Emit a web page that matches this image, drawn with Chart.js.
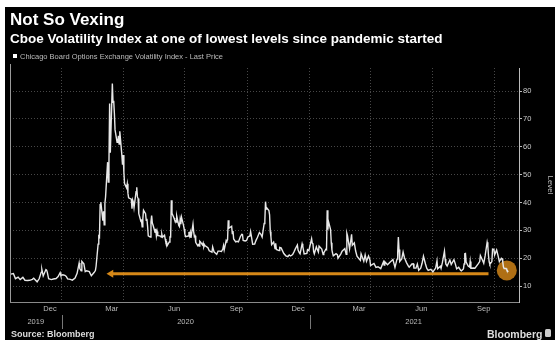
<!DOCTYPE html>
<html>
<head>
<meta charset="utf-8">
<script src="https://cdn.jsdelivr.net/npm/chart.js@4"></script>
<style>
  html, body { margin:0; padding:0; background:#fff; width:555px; height:340px; overflow:hidden; }
  #bg { position:absolute; left:5px; top:7px; width:550px; height:333px; background:#000; }
  #c { position:absolute; left:0; top:0; }
  .t { position:absolute; white-space:nowrap; font-family:"Liberation Sans", Arial, sans-serif; line-height:1; }
</style>
</head>
<body>
<div id="bg"></div>
<canvas id="c" width="555" height="340"></canvas>
<div class="t" style="left:10px;top:11px;font-size:17px;font-weight:bold;color:#fff;">Not So Vexing</div>
<div class="t" style="left:10px;top:31.5px;font-size:13.5px;font-weight:bold;color:#fff;">Cboe Volatility Index at one of lowest levels since pandemic started</div>
<div style="position:absolute;left:13px;top:54px;width:4px;height:4px;background:#fff;"></div>
<div class="t" style="left:20px;top:52.5px;font-size:7.5px;color:#bbb;">Chicago Board Options Exchange Volatility Index - Last Price</div>
<div class="t" style="left:11px;top:330px;font-size:9px;font-weight:bold;color:#ddd;">Source: Bloomberg</div>
<div class="t" style="left:487px;top:328.5px;font-size:10.5px;font-weight:bold;color:#ddd;">Bloomberg</div>
<div style="position:absolute;left:545px;top:329px;width:6px;height:8px;border-radius:1.5px;background:#ccc;"></div>
<script>
// ---------------- DATA ----------------
const dates = [
 '2019-10-18','2019-10-22','2019-10-25','2019-10-29','2019-11-01','2019-11-05','2019-11-08','2019-11-12','2019-11-15','2019-11-19','2019-11-21','2019-11-26','2019-11-29',
 '2019-12-02','2019-12-03','2019-12-04','2019-12-05','2019-12-09','2019-12-10','2019-12-11','2019-12-13','2019-12-17','2019-12-20','2019-12-24','2019-12-27','2019-12-30','2019-12-31',
 '2020-01-03','2020-01-06','2020-01-08','2020-01-10','2020-01-14','2020-01-17','2020-01-21','2020-01-24','2020-01-27','2020-01-28','2020-01-30','2020-01-31',
 '2020-02-03','2020-02-05','2020-02-07','2020-02-11','2020-02-14','2020-02-18','2020-02-20','2020-02-21','2020-02-24','2020-02-25','2020-02-26','2020-02-27','2020-02-28',
 '2020-03-02','2020-03-03','2020-03-04','2020-03-05','2020-03-06','2020-03-09','2020-03-10','2020-03-11','2020-03-12','2020-03-13','2020-03-16','2020-03-17','2020-03-18','2020-03-19','2020-03-20','2020-03-23','2020-03-24','2020-03-25','2020-03-26','2020-03-27','2020-03-30','2020-03-31',
 '2020-04-01','2020-04-02','2020-04-03','2020-04-06','2020-04-07','2020-04-08','2020-04-09','2020-04-13','2020-04-14','2020-04-15','2020-04-16','2020-04-17','2020-04-20','2020-04-21','2020-04-22','2020-04-23','2020-04-24','2020-04-27','2020-04-28','2020-04-29','2020-04-30',
 '2020-05-01','2020-05-04','2020-05-05','2020-05-06','2020-05-07','2020-05-08','2020-05-11','2020-05-12','2020-05-13','2020-05-14','2020-05-15','2020-05-18','2020-05-19','2020-05-20','2020-05-21','2020-05-22','2020-05-26','2020-05-27','2020-05-28','2020-05-29',
 '2020-06-01','2020-06-02','2020-06-03','2020-06-04','2020-06-05','2020-06-08','2020-06-09','2020-06-10','2020-06-11','2020-06-12','2020-06-15','2020-06-16','2020-06-17','2020-06-18','2020-06-19','2020-06-22','2020-06-23','2020-06-24','2020-06-25','2020-06-26','2020-06-29','2020-06-30',
 '2020-07-01','2020-07-02','2020-07-06','2020-07-07','2020-07-08','2020-07-09','2020-07-10','2020-07-13','2020-07-14','2020-07-15','2020-07-16','2020-07-17','2020-07-20','2020-07-21','2020-07-22','2020-07-23','2020-07-24','2020-07-27','2020-07-28','2020-07-29','2020-07-30','2020-07-31',
 '2020-08-04','2020-08-06','2020-08-10','2020-08-11','2020-08-13','2020-08-17','2020-08-19','2020-08-21','2020-08-24','2020-08-26','2020-08-27','2020-08-28','2020-08-31',
 '2020-09-01','2020-09-02','2020-09-03','2020-09-04','2020-09-08','2020-09-09','2020-09-10','2020-09-11','2020-09-14','2020-09-16','2020-09-18','2020-09-21','2020-09-23','2020-09-24','2020-09-25','2020-09-28','2020-09-30',
 '2020-10-02','2020-10-05','2020-10-06','2020-10-07','2020-10-09','2020-10-12','2020-10-14','2020-10-16','2020-10-19','2020-10-21','2020-10-23','2020-10-26','2020-10-27','2020-10-28','2020-10-29','2020-10-30',
 '2020-11-02','2020-11-03','2020-11-04','2020-11-05','2020-11-06','2020-11-09','2020-11-10','2020-11-11','2020-11-12','2020-11-13','2020-11-17','2020-11-18','2020-11-20','2020-11-24','2020-11-27','2020-11-30',
 '2020-12-02','2020-12-04','2020-12-07','2020-12-09','2020-12-11','2020-12-14','2020-12-15','2020-12-17','2020-12-18','2020-12-21','2020-12-22','2020-12-24','2020-12-28','2020-12-29','2020-12-31',
 '2021-01-04','2021-01-05','2021-01-06','2021-01-07','2021-01-08','2021-01-11','2021-01-12','2021-01-14','2021-01-15','2021-01-19','2021-01-21','2021-01-22','2021-01-25','2021-01-26','2021-01-27','2021-01-28','2021-01-29',
 '2021-02-01','2021-02-02','2021-02-03','2021-02-04','2021-02-05','2021-02-09','2021-02-11','2021-02-12','2021-02-16','2021-02-18','2021-02-22','2021-02-24','2021-02-25','2021-02-26',
 '2021-03-01','2021-03-03','2021-03-04','2021-03-05','2021-03-08','2021-03-10','2021-03-12','2021-03-15','2021-03-17','2021-03-18','2021-03-22','2021-03-24','2021-03-26','2021-03-29','2021-03-31',
 '2021-04-01','2021-04-06','2021-04-09','2021-04-12','2021-04-16','2021-04-20','2021-04-21','2021-04-22','2021-04-26','2021-04-30',
 '2021-05-04','2021-05-07','2021-05-10','2021-05-11','2021-05-12','2021-05-13','2021-05-14','2021-05-17','2021-05-19','2021-05-21','2021-05-24','2021-05-27','2021-05-28',
 '2021-06-01','2021-06-03','2021-06-04','2021-06-07','2021-06-09','2021-06-11','2021-06-14','2021-06-16','2021-06-18','2021-06-21','2021-06-23','2021-06-25','2021-06-29',
 '2021-07-02','2021-07-06','2021-07-08','2021-07-09','2021-07-13','2021-07-14','2021-07-16','2021-07-19','2021-07-20','2021-07-21','2021-07-23','2021-07-27','2021-07-29',
 '2021-08-02','2021-08-04','2021-08-06','2021-08-09','2021-08-12','2021-08-13','2021-08-16','2021-08-17','2021-08-18','2021-08-19','2021-08-20','2021-08-23','2021-08-25','2021-08-26','2021-08-27','2021-08-31',
 '2021-09-02','2021-09-07','2021-09-09','2021-09-10','2021-09-13','2021-09-15','2021-09-17','2021-09-20','2021-09-21','2021-09-22','2021-09-23','2021-09-24','2021-09-27','2021-09-28','2021-09-30',
 '2021-10-01','2021-10-04','2021-10-06','2021-10-08','2021-10-11','2021-10-12','2021-10-13','2021-10-14','2021-10-15','2021-10-18','2021-10-19','2021-10-20','2021-10-21'
];
const vix = [
 14.25,14.46,12.65,13.2,12.3,13.1,12.07,11.99,12.05,12.4,12.8,11.5,12.6,
 14.9,15.96,14.8,13.6,15.9,15.7,14.99,12.6,12.3,12.5,12.7,13.4,14.8,13.8,
 14.02,13.85,13.45,12.56,12.39,12.1,12.85,14.56,18.23,16.28,15.49,18.84,
 17.97,15.15,15.47,15.18,13.68,14.83,15.56,17.08,25.03,27.85,27.56,39.16,40.11,
 33.42,36.82,31.99,39.62,41.94,54.46,47.3,53.9,75.47,57.83,82.69,75.91,76.45,72.0,66.04,61.59,61.67,63.95,61.0,65.54,57.08,53.54,
 57.06,50.91,46.8,45.24,46.7,43.35,41.67,41.17,37.76,40.84,40.11,38.15,43.83,45.41,41.98,41.38,35.93,33.29,33.57,31.23,34.15,
 37.19,35.97,33.61,34.12,31.44,27.98,27.57,33.04,35.28,32.61,31.89,29.3,30.53,27.99,29.53,28.16,27.91,27.62,28.59,27.51,
 28.23,26.84,25.66,25.81,24.52,25.81,27.57,27.57,40.79,36.09,34.4,33.67,33.47,32.94,35.12,31.77,31.37,33.84,32.22,34.73,31.78,30.43,
 28.62,27.68,27.94,29.43,28.08,29.26,27.29,32.19,29.52,27.76,28.0,25.68,24.46,24.84,24.32,26.08,25.84,24.74,25.44,24.1,24.76,24.46,
 23.76,22.65,22.13,24.03,22.28,21.35,22.54,22.54,22.37,23.27,24.47,22.96,26.41,
 26.12,26.57,33.6,30.75,31.46,28.81,29.71,26.87,25.85,26.04,25.83,27.78,28.58,28.51,26.38,26.19,26.37,
 27.63,27.96,29.48,28.06,25.0,25.07,26.4,27.41,29.18,28.65,27.55,32.46,33.35,40.28,37.59,38.02,
 37.13,35.55,29.57,27.58,24.86,25.75,24.8,23.45,25.35,23.1,22.71,23.84,23.7,21.64,20.84,20.57,
 21.17,20.79,21.3,22.27,23.31,24.72,22.89,21.93,21.57,25.16,24.23,21.53,21.7,23.08,22.75,
 26.97,25.34,25.07,22.37,21.56,24.08,23.33,22.21,24.34,23.24,21.32,21.91,23.19,23.02,37.21,30.21,33.09,
 30.24,25.56,22.91,21.77,20.87,21.63,21.25,19.97,21.46,22.49,23.45,21.34,28.89,27.95,
 23.35,26.67,28.57,24.66,25.47,22.56,20.69,19.79,19.23,21.58,18.88,21.2,18.86,20.74,19.4,
 17.33,18.12,16.69,16.91,16.25,18.68,17.5,18.71,17.64,18.61,
 19.48,16.69,19.66,21.84,27.59,23.13,18.81,19.72,22.18,20.15,18.4,17.07,16.76,
 17.9,17.98,16.42,16.42,17.89,15.65,16.39,18.15,20.7,17.89,16.32,15.62,15.96,
 15.07,16.44,19.0,16.18,17.07,16.33,18.45,22.5,19.73,17.91,17.2,19.36,17.7,
 19.46,17.95,16.15,16.72,15.59,15.45,16.12,17.91,21.57,21.67,18.56,17.15,16.79,18.84,16.39,16.48,
 16.41,18.0,18.8,20.95,19.37,18.18,20.81,25.71,24.36,20.87,18.63,17.75,18.76,23.25,23.14,
 21.15,22.96,21.0,18.77,20.0,19.85,18.64,16.86,16.3,16.3,15.7,15.49,15.01
];
const yTicks = [10, 20, 30, 40, 50, 60, 70, 80];
const gridDates = ['2020-01-01','2020-04-01','2020-07-01','2020-10-01','2021-01-01','2021-04-01','2021-07-01','2021-10-01'];
const monthLabels = ['Dec','Mar','Jun','Sep','Dec','Mar','Jun','Sep'];
const monthLabelDates = ['2019-12-15','2020-03-15','2020-06-15','2020-09-15','2020-12-15','2021-03-15','2021-06-15','2021-09-15'];
const yearLabels = ['2019','2020','2021'];
const yearBounds = ['2019-10-14','2020-01-01','2021-01-01','2021-11-04']; // visible year spans
const arrowLevel = 14.4;
const arrowDates = ['2020-03-14','2021-09-22'];
const highlight = { date:'2021-10-19', value:15.6 };
const xRange = ['2019-10-18','2021-11-06'];
const yRange = [4.26, 88.26];

// ---------------- HELPERS ----------------
const EPOCH = Date.parse('2020-01-01T00:00:00Z');
const day = d => Math.round((Date.parse(d + 'T00:00:00Z') - EPOCH) / 86400000);
const series = dates.map((d, i) => ({ x: day(d), y: vix[i] }));
const ORANGE = 'rgb(214,136,24)';
const FONT = '"Liberation Sans", Arial, sans-serif';
const GRID = 'rgba(255,255,255,0.28)';

const extras = {
  id: 'extras',
  afterDraw(chart) {
    const ctx = chart.ctx, xs = chart.scales.x, a = chart.chartArea;
    ctx.save();
    // left frame line
    ctx.strokeStyle = '#9a9a9a'; ctx.lineWidth = 1;
    ctx.beginPath(); ctx.moveTo(a.left + 0.5, a.top - 4); ctx.lineTo(a.left + 0.5, a.bottom); ctx.stroke();
    // month labels
    ctx.fillStyle = '#bbb'; ctx.font = '7.5px ' + FONT; ctx.textAlign = 'center'; ctx.textBaseline = 'middle';
    monthLabels.forEach((m, i) => ctx.fillText(m, xs.getPixelForValue(day(monthLabelDates[i])), a.bottom + 7));
    // year labels
    yearLabels.forEach((y, i) => {
      const x0 = Math.max(xs.getPixelForValue(day(yearBounds[i])), a.left);
      const x1 = Math.min(xs.getPixelForValue(day(yearBounds[i + 1])), a.right);
      ctx.fillText(y, (x0 + x1) / 2, a.bottom + 20);
    });
    // year separators
    ctx.strokeStyle = '#777';
    [1, 2].forEach(i => {
      const x = Math.round(xs.getPixelForValue(day(yearBounds[i]))) + 0.5;
      ctx.beginPath(); ctx.moveTo(x, a.bottom + 13); ctx.lineTo(x, a.bottom + 27); ctx.stroke();
    });
    ctx.restore();
  }
};

new Chart(document.getElementById('c'), {
  type: 'line',
  data: {
    datasets: [
      { label: 'VIX', data: series, borderColor: '#e8e8e8', borderWidth: 1.4, pointRadius: 0, tension: 0, order: 1 },
      { label: 'arrow', data: arrowDates.map(d => ({ x: day(d), y: arrowLevel })), borderColor: ORANGE, borderWidth: 3,
        pointRadius: [4.5, 0], pointStyle: 'triangle', rotation: -90, pointBackgroundColor: ORANGE, pointBorderWidth: 0, order: 3 },
      { label: 'now', data: [{ x: day(highlight.date), y: highlight.value }], showLine: false, pointRadius: 10,
        pointBackgroundColor: 'rgba(214,136,24,0.82)', pointBorderWidth: 0, order: 2 }
    ]
  },
  options: {
    responsive: false, animation: false, devicePixelRatio: 1,
    layout: { padding: { left: 7, top: 68, right: 0, bottom: 0 } },
    plugins: { legend: { display: false }, tooltip: { enabled: false } },
    scales: {
      x: {
        type: 'linear', position: 'bottom', min: day(xRange[0]) - 1, max: day(xRange[1]),
        afterBuildTicks: s => { s.ticks = gridDates.map(d => ({ value: day(d) })); },
        afterFit: s => { s.height = 38; },
        ticks: { display: false },
        grid: { color: GRID, lineWidth: 1, drawTicks: false },
        border: { display: true, color: '#8a8a8a', width: 1, dash: [1, 2] }
      },
      y: {
        position: 'right', min: yRange[0], max: yRange[1],
        afterBuildTicks: s => { s.ticks = yTicks.map(v => ({ value: v })); },
        afterFit: s => { s.width = 36; },
        ticks: { color: '#ccc', font: { family: FONT, size: 7.5 }, padding: 1 },
        grid: { color: GRID, lineWidth: 1, tickLength: 3, tickColor: '#bbb', tickWidth: 1, tickBorderDash: [] },
        border: { display: true, color: '#bbb', width: 1, dash: [1, 2] },
        title: { display: true, text: 'Level', color: '#bbb', font: { family: FONT, size: 8 }, padding: { top: 0, bottom: 4 } }
      }
    }
  },
  plugins: [extras]
});
</script>
</body>
</html>
